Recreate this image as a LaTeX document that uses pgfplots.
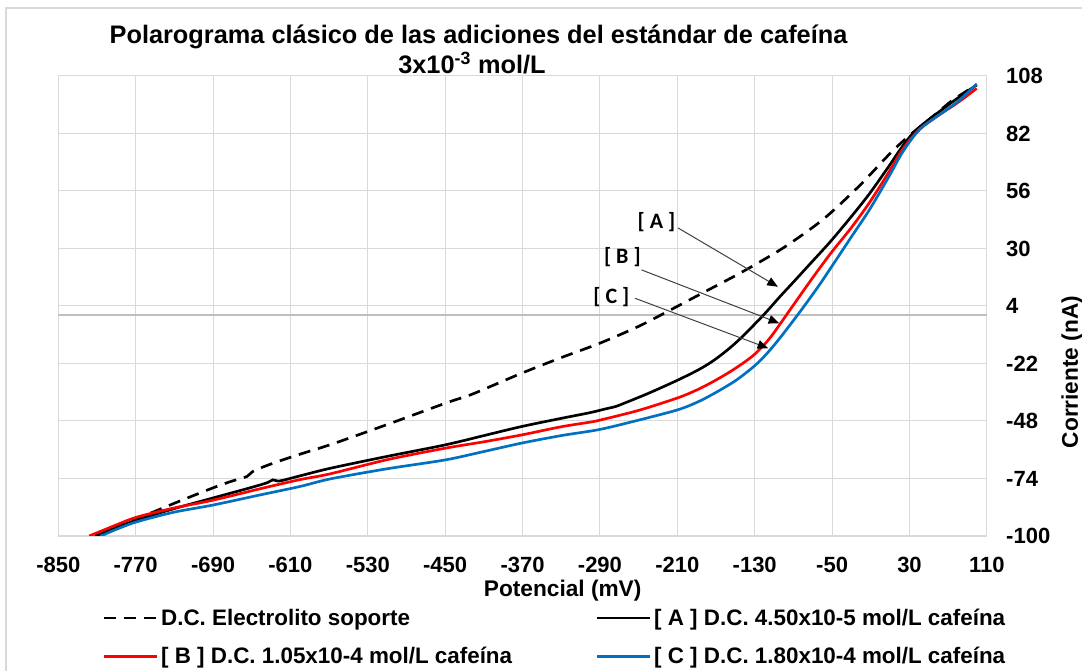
\documentclass[border=0pt]{standalone}
\usepackage{pgfplots}
\pgfplotsset{compat=1.18}
\usepackage{fontspec}
\setmainfont{Liberation Sans}
\newfontfamily\carlito{Carlito}
\usetikzlibrary{arrows.meta}
\definecolor{gridgray}{RGB}{217,217,217}
\definecolor{xlblue}{RGB}{0,112,192}
\definecolor{zerogray}{RGB}{191,191,191}
\definecolor{arrowgray}{RGB}{64,64,64}
\begin{document}
\begin{tikzpicture}
\useasboundingbox (0,0) rectangle (811.5pt,503.25pt);
\fill[white] (0,0) rectangle (811.5pt,503.25pt);
\draw[gridgray, line width=1pt] (4.5pt,-10pt) -- (4.5pt,497.25pt) -- (830pt,497.25pt);
\begin{axis}[
  at={(43.7pt,101.25pt)}, anchor=south west,
  scale only axis, width=696.45pt, height=345pt,
  xmin=-850, xmax=110, ymin=-100, ymax=108,
  xtick={-850,-770,...,110}, ytick={-100,-74,...,108},
  yticklabel pos=right,
  grid=major, major grid style={gridgray, line width=0.75pt},
  axis line style={gridgray, line width=0.75pt},
  major tick length=0pt,
  tick label style={font=\fontsize{16.5}{19}\selectfont\bfseries},
  /pgf/number format/assume math mode=true,
  yticklabel style={anchor=west, xshift=11pt},
  xticklabel style={yshift=-12.5pt},
  legend columns=2,
  legend cell align=left,
  legend style={at={(0.043,-0.146)}, anchor=north west, draw=none, fill=none,
    font=\fontsize{16.8}{20}\selectfont\bfseries,
    /tikz/every even column/.append style={column sep=60.5pt},
    row sep=11pt},
  legend image code/.code={\draw[#1] (0pt,0pt) -- (40pt,0pt);},
]
\addplot[zerogray, line width=1pt, forget plot] coordinates {(-850,0) (110,0)};
\addplot[black, line width=2pt, dash pattern=on 9pt off 6pt, smooth] coordinates {
(-812,-100) (-790,-96) (-769,-92.3) (-730,-85.2) (-691,-78.4) (-672,-75.4) (-655,-73.1) (-648,-70.6) (-628,-67.1) (-600,-63) (-566,-58.3) (-510,-49.6) (-450,-40) (-424,-36.2) (-400,-31.8) (-371,-26.4) (-331,-19.5) (-290,-12.8) (-250,-5.2) (-218,2) (-180,10.8) (-145,18.9) (-104,29.3) (-73,38.6) (-52,45.9) (-21,58.7) (10,73) (30.5,81.3) (58,91.1) (75,97.2) (99.5,104)};
\addlegendentry{D.C. Electrolito soporte}
\addplot[black, line width=2pt, smooth] coordinates {
(-812,-100) (-790,-96.2) (-769,-92.8) (-730,-87.6) (-690,-82.8) (-650,-78) (-634,-75.9) (-628,-74.6) (-621,-75.1) (-600,-72.8) (-569,-69.4) (-510,-64) (-450,-58.8) (-410,-54.6) (-371,-50.5) (-330,-46.8) (-300,-44.2) (-285,-42.6) (-275,-41.6) (-268,-40.5) (-240,-35.5) (-210,-29.6) (-188,-24.8) (-173,-20.8) (-158,-15.8) (-145,-10.8) (-130,-4.2) (-118,1.3) (-104,8.2) (-90,14.8) (-76,21.5) (-52,33) (-30,44.5) (-11,55) (10,68) (20,74.5) (30.5,80.6) (42,85.5) (54,89.6) (75,96.5) (99.5,104)};
\addlegendentry{[ A ] D.C. 4.50x10-5 mol/L cafeína}
\addplot[red, line width=2pt, smooth] coordinates {
(-818,-100) (-790,-95) (-769,-91.5) (-730,-87.3) (-690,-83.8) (-640,-78.5) (-600,-74.5) (-569,-71.9) (-510,-65.5) (-450,-60.3) (-410,-57.4) (-371,-54.3) (-330,-50.6) (-300,-48.5) (-290,-47.6) (-250,-43.2) (-210,-37.6) (-190,-34) (-173,-30.2) (-155,-25.6) (-140,-21.2) (-130,-17.8) (-120,-13.4) (-111,-8.6) (-93.6,2.2) (-73,15) (-52,27.5) (-30,39.5) (-11,51) (10,65.5) (20,73) (30.5,79.2) (42,84.5) (58,89.6) (80,96) (99.5,102.4)};
\addlegendentry{[ B ] D.C. 1.05x10-4 mol/L cafeína}
\addplot[xlblue, line width=2pt, smooth] coordinates {
(-806,-100) (-790,-97) (-769,-93.6) (-730,-89.2) (-690,-86) (-640,-81.3) (-600,-77.6) (-569,-74.2) (-510,-69.6) (-450,-65.6) (-410,-61.8) (-371,-58) (-330,-54.6) (-290,-51.8) (-250,-47.6) (-210,-43) (-190,-39.6) (-173,-35.8) (-150,-29.8) (-130,-23) (-117,-17.3) (-104,-10.5) (-83,1.5) (-64,13) (-52,20.8) (-30,35.3) (-11,47.8) (10,63.5) (20,71.5) (30.5,78.5) (42,84.5) (58,89.6) (80,96.5) (99.5,104.4)};
\addlegendentry{[ C ] D.C. 1.80x10-4 mol/L cafeína}
\draw[arrowgray, line width=0.75pt, -{Triangle[length=8pt,width=6.5pt,black]}] (axis cs:-209.3,39.3) -- (axis cs:-106,12.7);
\draw[arrowgray, line width=0.75pt, -{Triangle[length=8pt,width=6.5pt,black]}] (axis cs:-246.9,20.3) -- (axis cs:-104.6,-3.8);
\draw[arrowgray, line width=0.75pt, -{Triangle[length=8pt,width=6.5pt,black]}] (axis cs:-253.8,7.5) -- (axis cs:-116,-15.1);
\node[font=\carlito\fontsize{16.5}{19}\selectfont\bfseries] at (axis cs:-231.6,42) {[ A ]};
\node[font=\carlito\fontsize{16.5}{19}\selectfont\bfseries] at (axis cs:-266.8,26.2) {[ B ]};
\node[font=\carlito\fontsize{16.5}{19}\selectfont\bfseries] at (axis cs:-278.2,8.1) {[ C ]};
\end{axis}
\node[font=\fontsize{19}{22}\selectfont\bfseries] at (358.9pt,475.5pt) {Polarograma clásico de las adiciones del estándar de cafeína};
\node[font=\fontsize{19}{22}\selectfont\bfseries] at (354pt,456pt) {3x10\textsuperscript{-3} mol/L};
\node[font=\fontsize{17}{20}\selectfont\bfseries] at (422pt,60pt) {Potencial (mV)};
\node[rotate=90, font=\fontsize{17}{20}\selectfont\bfseries] at (804pt,224.25pt) {Corriente (nA)};
\end{tikzpicture}
\end{document}
